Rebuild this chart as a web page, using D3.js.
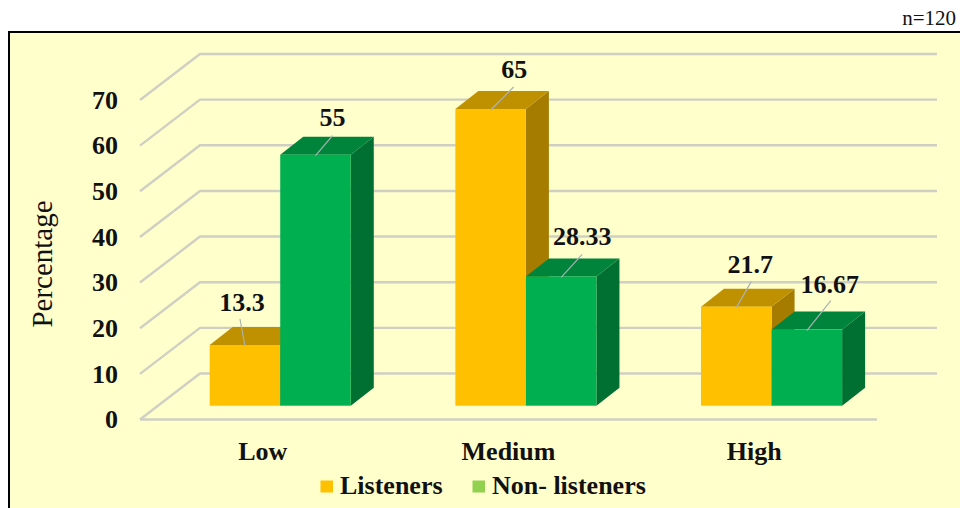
<!DOCTYPE html>
<html>
<head>
<meta charset="utf-8">
<script src="https://cdn.jsdelivr.net/npm/d3@7"></script>
<style>
  html, body { margin: 0; padding: 0; background: #fff; overflow: hidden; }
  svg { display: block; }
  text { font-family: "Liberation Serif", serif; fill: #111; }
  .bold text, text.bold { font-weight: 700; }
</style>
</head>
<body>
<svg id="chart" width="960" height="508"></svg>
<script>
// Awareness level by group, in percent
const categories = ["Low", "Medium", "High"];
const seriesNames = ["Listeners", "Non- listeners"];
const listeners = [13.3, 65, 21.7];
const nonListeners = [55, 28.33, 16.67];
const labelTexts = [["13.3", "55"], ["65", "28.33"], ["21.7", "16.67"]];
const yTicks = [0, 10, 20, 30, 40, 50, 60, 70];

// Oblique projection of the chart box
const plot = { left: 140, right: 877, front0: 419.5, front70: 100 };
const wall = { dx: 60, dy: -46 };
const barDepth = { dx: 23, dy: -18 };
const barInset = { dx: 17.4, dy: -13.8 };

const palette = {
  Listeners: { front: "#FFC000", top: "#BF9000", side: "#A67C00", key: "#FFC000" },
  "Non- listeners": { front: "#00B050", top: "#00843C", side: "#006F32", key: "#92D050" }
};

// Label placement relative to the front-centre of each bar top
const labelLayout = [
  [{ lx: -5, ly: -26, tx: -3, ty: -34 }, { lx: 17, ly: -19, tx: 17, ty: -29 }],
  [{ lx: 23, ly: -22, tx: 23.5, ty: -31 }, { lx: 21, ly: -22, tx: 21, ty: -31 }],
  [{ lx: 15, ly: -25, tx: 14, ty: -34 }, { lx: 24, ly: -29, tx: 23, ty: -36.5 }]
];

const svg = d3.select("#chart");

const y = d3.scaleLinear().domain([0, 70]).range([plot.front0, plot.front70]);
const x0 = d3.scaleBand().domain(categories)
  .range([plot.left, plot.right]).paddingInner(0.4257).paddingOuter(0.2128);
const x1 = d3.scaleBand().domain(seriesNames).range([0, x0.bandwidth()]);

// Panel background and frame
svg.append("rect")
  .attr("x", 9).attr("y", 32).attr("width", 1000).attr("height", 520)
  .attr("fill", "#FFFFCC").attr("stroke", "#000").attr("stroke-width", 2);

svg.append("text")
  .attr("x", 956).attr("y", 25)
  .attr("text-anchor", "end")
  .style("font-size", "21px")
  .text("n=120");

// Gridlines: side wall segment plus back wall segment
const gridColor = "#CFCFC4";
svg.append("g").selectAll("path").data(yTicks).join("path")
  .attr("fill", "none")
  .attr("stroke", gridColor)
  .attr("stroke-width", 2.4)
  .attr("d", d => {
    const p = d3.path();
    p.moveTo(plot.left, y(d));
    p.lineTo(plot.left + wall.dx, y(d) + wall.dy);
    p.lineTo(plot.right + wall.dx, y(d) + wall.dy);
    return p.toString();
  });

// Floor front edge
svg.append("line")
  .attr("x1", plot.left).attr("x2", plot.right)
  .attr("y1", y(0)).attr("y2", y(0))
  .attr("stroke", gridColor).attr("stroke-width", 2.4);

// Bars as three visible faces of a box
const rows = categories.map((c, i) => [
  { cat: c, i, s: 0, name: seriesNames[0], value: listeners[i] },
  { cat: c, i, s: 1, name: seriesNames[1], value: nonListeners[i] }
]);
const barGeom = d => {
  const xl = x0(d.cat) + x1(d.name) + barInset.dx;
  const xr = xl + x1.bandwidth();
  const yt = y(d.value) + barInset.dy;
  const yb = y(0) + barInset.dy;
  return { xl, xr, yt, yb };
};

const bars = svg.append("g").selectAll("g").data(rows.flat()).join("g");
bars.append("path")
  .attr("fill", d => palette[d.name].side)
  .attr("d", d => {
    const g = barGeom(d);
    return d3.line()([[g.xr, g.yt], [g.xr + barDepth.dx, g.yt + barDepth.dy],
      [g.xr + barDepth.dx, g.yb + barDepth.dy], [g.xr, g.yb]]) + "Z";
  });
bars.append("path")
  .attr("fill", d => palette[d.name].top)
  .attr("d", d => {
    const g = barGeom(d);
    return d3.line()([[g.xl, g.yt], [g.xl + barDepth.dx, g.yt + barDepth.dy],
      [g.xr + barDepth.dx, g.yt + barDepth.dy], [g.xr, g.yt]]) + "Z";
  });
bars.append("rect")
  .attr("fill", d => palette[d.name].front)
  .attr("x", d => barGeom(d).xl)
  .attr("y", d => barGeom(d).yt)
  .attr("width", x1.bandwidth())
  .attr("height", d => barGeom(d).yb - barGeom(d).yt);

// Leader lines and value labels
const anchor = d => {
  const g = barGeom(d);
  return { x: (g.xl + g.xr) / 2, y: g.yt };
};
const labels = svg.append("g").selectAll("g").data(rows.flat()).join("g");
labels.append("line")
  .attr("stroke", "#A9B3B3").attr("stroke-width", 1.2)
  .attr("x1", d => anchor(d).x).attr("y1", d => anchor(d).y + 1)
  .attr("x2", d => anchor(d).x + labelLayout[d.i][d.s].lx)
  .attr("y2", d => anchor(d).y + labelLayout[d.i][d.s].ly);
labels.append("text")
  .attr("class", "bold")
  .attr("text-anchor", "middle")
  .style("font-size", "26px")
  .attr("x", d => anchor(d).x + labelLayout[d.i][d.s].tx)
  .attr("y", d => anchor(d).y + labelLayout[d.i][d.s].ty)
  .text(d => labelTexts[d.i][d.s]);

// Value axis
const yAxis = svg.append("g")
  .attr("class", "bold")
  .attr("transform", `translate(${plot.left - 22},0)`)
  .call(d3.axisLeft(y).tickValues(yTicks).tickSize(0).tickPadding(0));
yAxis.select(".domain").remove();
yAxis.selectAll("text").style("font-size", "26px").attr("dy", "0.32em");
yAxis.attr("font-family", null);

// Category axis, labelled under the floor
const xAxis = svg.append("g")
  .attr("class", "bold")
  .attr("transform", `translate(0,${y(0)})`)
  .call(d3.axisBottom(x0).tickSize(0).tickPadding(22));
xAxis.select(".domain").remove();
xAxis.selectAll("text").style("font-size", "26px");
xAxis.attr("font-family", null);

svg.append("text")
  .attr("transform", "translate(52,264) rotate(-90)")
  .attr("text-anchor", "middle")
  .style("font-size", "29px")
  .text("Percentage");

// Legend
const legendX = [320.5, 472.5];
const legend = svg.append("g").selectAll("g").data(seriesNames).join("g")
  .attr("transform", (d, i) => `translate(${legendX[i]},480.5)`);
legend.append("rect")
  .attr("width", 12.5).attr("height", 12)
  .attr("fill", d => palette[d].key);
legend.append("text")
  .attr("class", "bold")
  .attr("x", 19.5).attr("y", 13.5)
  .style("font-size", "26px")
  .text(d => d);
</script>
</body>
</html>
